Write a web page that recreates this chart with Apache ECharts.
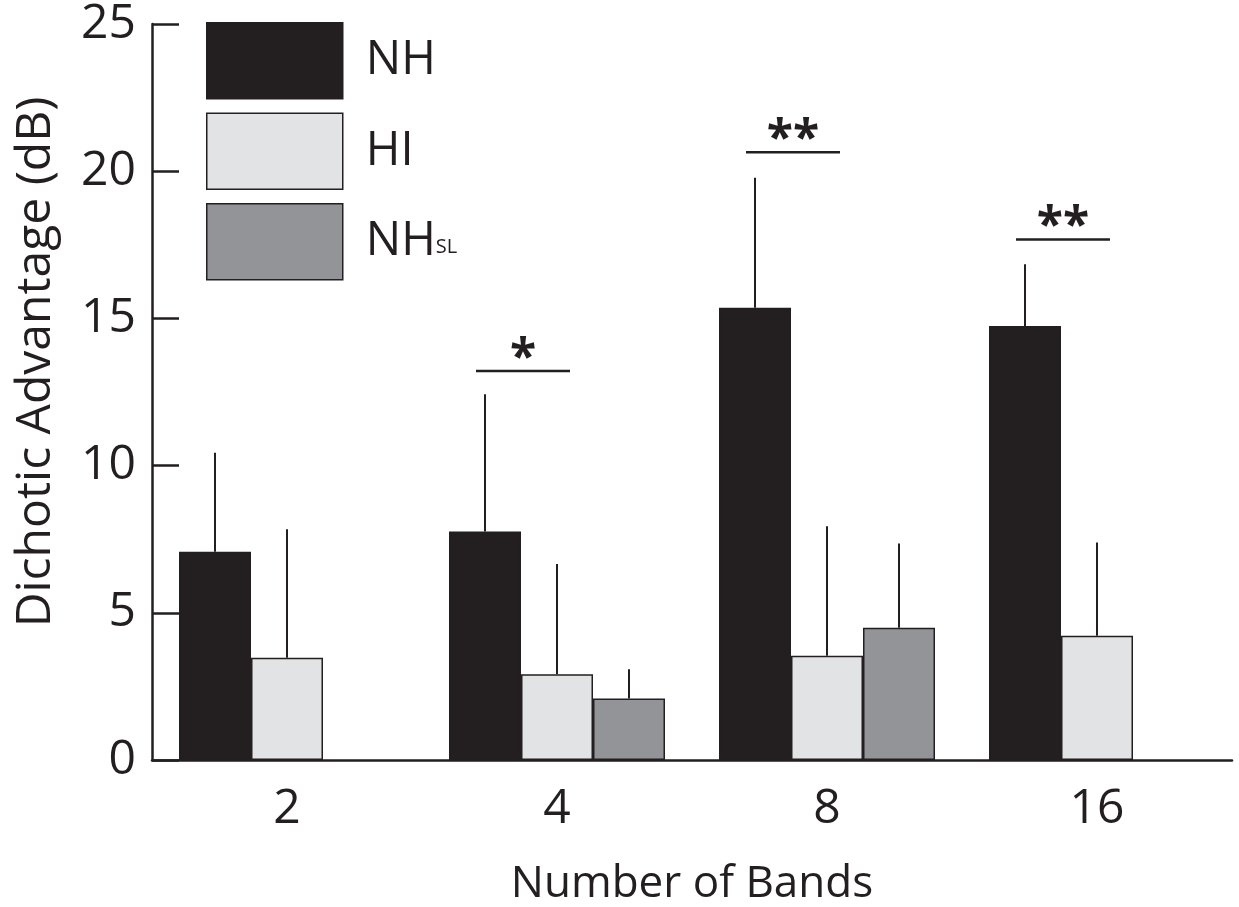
<!DOCTYPE html>
<html>
<head>
<meta charset="utf-8">
<script src="https://cdn.jsdelivr.net/npm/echarts@6/dist/echarts.min.js"></script>
<style>
  html, body { margin: 0; padding: 0; background: #fff; }
  #chart { width: 1239px; height: 907px; }
</style>
</head>
<body>
<div id="chart"></div>
<script>
// number of bands
var categories = ['2', '4', '8', '16'];

// mean dichotic advantage (dB) and upward error (SD)
var nhMean = [7.07, 7.76, 15.36, 14.74];
var nhErr = [3.37, 4.66, 4.42, 2.10];
var hiMean = [3.47, 2.91, 3.54, 4.22];
var hiErr = [4.37, 3.75, 4.40, 3.17];
var nhslMean = ['-', 2.09, 4.49, '-'];
var nhslErr = ['-', 0.99, 2.86, '-'];

// significance brackets: category index, height (dB), label
var sigCats = [1, 2, 3];
var sigLevels = [13.21, 20.64, 17.68];
var sigLabels = ['*', '**', '**'];

var yTicks = [0, 5, 10, 15, 20, 25];

var FONT = '"Open Sans", "Noto Sans", sans-serif';
var INK = '#231f20';
var BAR_W = 72;

function errData(mean, err) {
    var out = [];
    for (var i = 0; i < mean.length; i++) {
        if (mean[i] === '-') continue;
        out.push([i, mean[i], err[i]]);
    }
    return out;
}

function errSeries(mean, err, slot) {
    return {
        type: 'custom',
        silent: true,
        z: 5,
        data: errData(mean, err),
        encode: {x: 0, y: 1},
        renderItem: function (params, api) {
            var c = api.value(0);
            var m = api.value(1);
            var e = api.value(2);
            var p0 = api.coord([c, m]);
            var p1 = api.coord([c, m + e]);
            var off = (slot - 1) * BAR_W;
            return {
                type: 'line',
                shape: {x1: p0[0] + off, y1: p0[1], x2: p1[0] + off, y2: p1[1]},
                style: {stroke: INK, lineWidth: 2}
            };
        }
    };
}

var sigData = [];
for (var i = 0; i < sigCats.length; i++) {
    sigData.push([sigCats[i], sigLevels[i]]);
}

var option = {
    backgroundColor: '#fff',
    animation: false,
    textStyle: {fontFamily: FONT, color: INK},
    grid: {left: 152, right: 7, top: 24, bottom: 147, containLabel: false, outerBoundsMode: 'none'},
    legend: {
        data: ['NH', 'HI', 'NHSL'],
        orient: 'vertical',
        left: 206,
        top: 22,
        padding: 0,
        itemWidth: 136,
        itemHeight: 76,
        itemGap: 13,
        icon: 'rect',
        selectedMode: false,
        itemStyle: {borderColor: INK, borderWidth: 1.5},
        formatter: function (name) {
            if (name === 'NHSL') return '{a|NH}{s|SL}';
            return '{a|' + name + '}';
        },
        textStyle: {
            color: INK,
            fontFamily: FONT,
            rich: {
                a: {fontSize: 47, fontFamily: FONT, color: INK, padding: [0, 0, 0, 18]},
                s: {fontSize: 20, fontFamily: FONT, color: INK, verticalAlign: 'bottom', padding: [0, 0, 8, 0]}
            }
        }
    },
    xAxis: {
        type: 'category',
        data: categories,
        name: 'Number of Bands',
        nameLocation: 'middle',
        nameGap: 102,
        nameTextStyle: {fontSize: 44, color: INK, fontFamily: FONT},
        axisLine: {lineStyle: {color: INK, width: 2.5}},
        axisTick: {show: false},
        axisLabel: {fontSize: 48, color: INK, fontFamily: FONT, margin: 25}
    },
    yAxis: {
        type: 'value',
        min: 0,
        max: 25,
        interval: 5,
        name: 'Dichotic Advantage (dB)',
        nameLocation: 'middle',
        nameGap: 92,
        nameTextStyle: {fontSize: 48, color: INK, fontFamily: FONT, padding: [0, 0, 0, 60]},
        axisLine: {show: true, lineStyle: {color: INK, width: 2.5}},
        axisTick: {show: true, inside: true, length: 27, lineStyle: {color: INK, width: 2.5}},
        splitLine: {show: false},
        axisLabel: {
            fontSize: 48, color: INK, fontFamily: FONT, margin: 16,
            formatter: function (v) { return yTicks.indexOf(v) >= 0 ? String(v) : ''; }
        }
    },
    series: [
        {
            name: 'NH',
            type: 'bar',
            data: nhMean,
            barWidth: BAR_W,
            barGap: '0%',
            itemStyle: {color: INK, borderColor: INK, borderWidth: 1.5}
        },
        {
            name: 'HI',
            type: 'bar',
            data: hiMean,
            barWidth: BAR_W,
            barGap: '0%',
            itemStyle: {color: '#e2e3e4', borderColor: INK, borderWidth: 1.5}
        },
        {
            name: 'NHSL',
            type: 'bar',
            data: nhslMean,
            barWidth: BAR_W,
            barGap: '0%',
            itemStyle: {color: '#929497', borderColor: INK, borderWidth: 1.5}
        },
        errSeries(nhMean, nhErr, 0),
        errSeries(hiMean, hiErr, 1),
        errSeries(nhslMean, nhslErr, 2),
        {
            type: 'custom',
            silent: true,
            z: 6,
            data: sigData,
            encode: {x: 0, y: 1},
            renderItem: function (params, api) {
                var p = api.coord([api.value(0), api.value(1)]);
                var x1 = p[0] - 81;
                var x2 = p[0] + 13;
                return {
                    type: 'group',
                    children: [
                        {
                            type: 'line',
                            shape: {x1: x1, y1: p[1], x2: x2, y2: p[1]},
                            style: {stroke: INK, lineWidth: 2.5}
                        },
                        {
                            type: 'text',
                            style: {
                                text: sigLabels[params.dataIndex],
                                x: (x1 + x2) / 2,
                                y: p[1] - 12,
                                align: 'center',
                                verticalAlign: 'middle',
                                fontSize: 48,
                                fontWeight: 'bold',
                                fontFamily: FONT,
                                fill: INK
                            }
                        }
                    ]
                };
            }
        }
    ]
};

var myChart = echarts.init(document.getElementById('chart'));
myChart.setOption(option);
</script>
</body>
</html>
